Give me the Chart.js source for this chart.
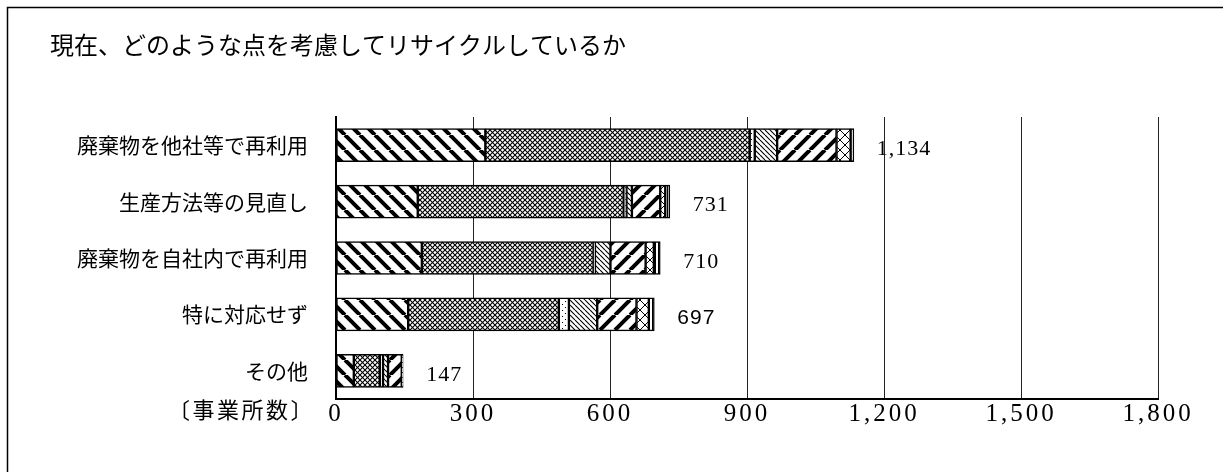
<!DOCTYPE html>
<html lang="ja">
<head>
<meta charset="utf-8">
<script src="https://cdn.jsdelivr.net/npm/chart.js@4.4.0/dist/chart.umd.min.js"></script>
<style>
  html, body { margin: 0; padding: 0; background: #fff; }
  canvas { display: block; }
</style>
</head>
<body>
<canvas id="recycleChart" width="1223" height="472"></canvas>
<script>
// Chart data
const title = '現在、どのような点を考慮してリサイクルしているか';
const unitLabel = '〔事業所数〕';
const categories = ['廃棄物を他社等で再利用', '生産方法等の見直し', '廃棄物を自社内で再利用', '特に対応せず', 'その他'];
const totals = [1134, 731, 710, 697, 147];
const seriesA = [327, 179, 188, 158, 39];
const seriesB = [579, 451, 376, 330, 57];
const seriesC = [11, 6, 3, 22, 7];
const seriesD = [49, 12, 34, 62, 11];
const seriesE = [130, 62, 77, 86, 30];
const seriesF = [31, 11, 18, 27, 2];
const seriesG = [7, 10, 14, 12, 1];
const xTicks = [0, 300, 600, 900, 1200, 1500, 1800];

// Hatch patterns (black on white, like the printed original)
function makePattern(size, draw) {
    const c = document.createElement('canvas');
    c.width = size;
    c.height = size;
    const g = c.getContext('2d');
    g.fillStyle = '#fff';
    g.fillRect(0, 0, size, size);
    g.strokeStyle = '#000';
    g.fillStyle = '#000';
    draw(g, size);
    return g.createPattern(c, 'repeat');
}

function back(g, s, w) { // "\" lines
    g.lineWidth = w;
    g.beginPath();
    [-s, 0, s].forEach(k => { g.moveTo(k, 0); g.lineTo(k + s, s); });
    g.stroke();
}

function fwd(g, s, w) { // "/" lines
    g.lineWidth = w;
    g.beginPath();
    [-s, 0, s].forEach(k => { g.moveTo(k, s); g.lineTo(k + s, 0); });
    g.stroke();
}

const patterns = [
    makePattern(15, (g, s) => back(g, s, 4)),
    makePattern(5, (g, s) => { back(g, s, 1.1); fwd(g, s, 1.1); }),
    makePattern(6, (g) => { g.fillRect(1, 1, 1, 1); g.fillRect(4, 4, 1, 1); }),
    makePattern(5, (g, s) => back(g, s, 1.1)),
    makePattern(15, (g, s) => fwd(g, s, 4)),
    makePattern(10, (g, s) => { back(g, s, 1); fwd(g, s, 1); }),
    makePattern(3, (g) => { g.fillRect(1, 0, 1, 3); })
];

const seriesValues = [seriesA, seriesB, seriesC, seriesD, seriesE, seriesF, seriesG];

const datasets = seriesValues.map((vals, i) => ({
    label: '区分' + (i + 1),
    data: vals,
    backgroundColor: patterns[i],
    borderColor: '#000',
    borderWidth: 1.5,
    borderSkipped: false,
    barThickness: 33
}));

// Frame, title and unit label
const framePlugin = {
    id: 'frame',
    beforeDraw(chart) {
        const ctx = chart.ctx;
        ctx.save();
        ctx.fillStyle = '#fff';
        ctx.fillRect(0, 0, chart.width, chart.height);
        ctx.strokeStyle = '#000';
        ctx.lineWidth = 1.5;
        ctx.strokeRect(7.5, 7.5, 1300, 520);
        ctx.fillStyle = '#000';
        ctx.font = '24px "Noto Sans CJK JP"';
        ctx.textAlign = 'left';
        ctx.textBaseline = 'middle';
        ctx.fillText(title, 50, 45);
        ctx.font = '22px "Noto Sans CJK JP"';
        ctx.letterSpacing = '2.5px';
        ctx.fillText(unitLabel, 168, 410);
        ctx.restore();
    },
    afterLayout(chart) {
        // wider letter spacing for the x tick numbers
        const s = chart.scales.x;
        if (s && !s._spaced) {
            const orig = s.drawLabels.bind(s);
            s.drawLabels = function(area) {
                this.ctx.save();
                this.ctx.letterSpacing = '3px';
                orig(area);
                this.ctx.restore();
            };
            s._spaced = true;
        }
    }
};

// Totals at the end of each bar
const totalsPlugin = {
    id: 'totals',
    afterDatasetsDraw(chart) {
        const ctx = chart.ctx;
        const xs = chart.scales.x;
        const ys = chart.scales.y;
        ctx.save();
        ctx.fillStyle = '#000';
        ctx.textAlign = 'left';
        ctx.textBaseline = 'middle';
        ctx.letterSpacing = '1px';
        totals.forEach((t, i) => {
            ctx.font = i === 3 ? '21px "Liberation Sans"' : '22px "Liberation Serif"';
            ctx.fillText(t.toLocaleString('en-US'), xs.getPixelForValue(t) + 23, ys.getPixelForValue(i) + 4);
        });
        ctx.restore();
    }
};

new Chart(document.getElementById('recycleChart').getContext('2d'), {
    type: 'bar',
    data: {
        labels: categories,
        datasets: datasets
    },
    options: {
        indexAxis: 'y',
        responsive: false,
        animation: false,
        devicePixelRatio: 1,
        layout: {
            padding: { top: 117, right: 65, bottom: 0, left: 0 }
        },
        plugins: {
            legend: { display: false },
            tooltip: { enabled: false }
        },
        scales: {
            x: {
                stacked: true,
                min: 0,
                max: 1800,
                afterBuildTicks: function(scale) {
                    scale.ticks = xTicks.map(v => ({ value: v }));
                },
                afterFit: function(scale) {
                    scale.height = 73;
                },
                grid: {
                    color: '#222',
                    lineWidth: 1,
                    drawTicks: false
                },
                border: {
                    display: true,
                    color: '#000',
                    width: 2
                },
                ticks: {
                    padding: 0,
                    color: '#000',
                    font: { family: '"Liberation Serif"', size: 25 },
                    callback: function(value) {
                        return value.toLocaleString('en-US');
                    }
                }
            },
            y: {
                stacked: true,
                afterFit: function(scale) {
                    scale.width = 336;
                },
                grid: {
                    display: false,
                    drawTicks: false
                },
                border: {
                    display: true,
                    color: '#000',
                    width: 2
                },
                ticks: {
                    padding: 28,
                    color: '#000',
                    font: { family: '"Noto Sans CJK JP"', size: 21 }
                }
            }
        }
    },
    plugins: [framePlugin, totalsPlugin]
});
</script>
</body>
</html>
